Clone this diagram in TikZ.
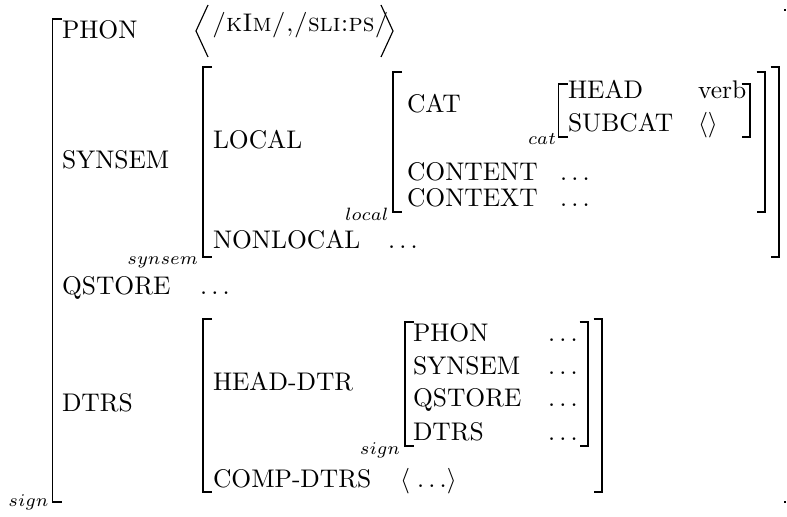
\documentclass[tikz,border=0pt]{standalone}
\usepackage{amsmath}
\begin{document}
\begin{tikzpicture}[x=0.39216pt,y=-0.39216pt,
  ft/.style={anchor=base west,inner sep=0pt,outer sep=0pt,font=\fontsize{10}{12}\selectfont},
  ty/.style={anchor=base east,inner sep=0pt,outer sep=0pt},
  br/.style={line width=0.6pt,line cap=butt,line join=miter},
  ang/.style={line width=0.45pt,line join=miter}]
\useasboundingbox (0,0) rectangle (787,517);
% brackets
\newcommand{\lbr}[3]{\draw[br] (#1+9,#2) -- (#1,#2) -- (#1,#3) -- (#1+9,#3);}
\newcommand{\rbr}[3]{\draw[br] (#1-8.5,#2) -- (#1,#2) -- (#1,#3) -- (#1-8.5,#3);}
% outer sign
\lbr{52.5}{19}{502}
\fill (784,9) rectangle (786,11);
\fill (784,501) rectangle (786,503);
\node[ty] (tsign) at (48.5,506) {$\scriptstyle sign$};
\node[ft] (phon) at (62,38.5) {PHON};
\draw[ang] (208,5) -- (196,31) -- (208,57);
\node[ft] (phonval) at (212,32) {\textsc{/kIm/,/sli:ps/}};
\draw[ang] (381,5) -- (393,31) -- (381,57);
\node[ft] (synsem) at (62,169) {SYNSEM};
\node[ft] (qstore) at (62,295) {QSTORE};
\node[ft] (qval) at (200,295) {$\ldots$};
\node[ft] (dtrs) at (62,411) {DTRS};
% synsem matrix
\lbr{203}{67}{257}
\rbr{779}{67}{257}
\node[ty] (tsynsem) at (198,265) {$\scriptstyle synsem$};
\node[ft] (local) at (213,149) {LOCAL};
\node[ft] (nonlocal) at (213,249) {NONLOCAL};
\node[ft] (nlval) at (388,249) {$\ldots$};
% local matrix
\lbr{393}{72}{212}
\rbr{765}{72}{212}
\node[ty] (tlocal) at (388.5,221) {$\scriptstyle local$};
\node[ft] (cat) at (407,113) {CAT};
\node[ft] (content) at (407,181) {CONTENT};
\node[ft] (contval) at (560,181) {$\ldots$};
\node[ft] (context) at (407,207) {CONTEXT};
\node[ft] (cxval) at (560,207) {$\ldots$};
% cat matrix
\lbr{558.5}{84}{137}
\rbr{750}{84}{137}
\node[ty] (tcat) at (556,145) {$\scriptstyle cat$};
\node[ft] (head) at (568,99) {HEAD};
\node[ft] (verb) at (698,99) {verb};
\node[ft] (subcat) at (568,131.5) {SUBCAT};
\node[ft] (scval) at (698,131.5) {$\langle\rangle$};
% dtrs matrix
\lbr{203}{319}{492}
\rbr{602}{319}{492}
\node[ft] (hdtr) at (213,390) {HEAD-DTR};
\node[ft] (cdtrs) at (213,487) {COMP-DTRS};
\node[ft] (cval) at (400,487) {$\langle\;\ldots\rangle$};
% inner sign matrix
\lbr{405}{322}{446}
\rbr{588}{322}{446}
\node[ty] (tsign2) at (400,454) {$\scriptstyle sign$};
\node[ft] (iphon) at (413,342) {PHON};
\node[ft] (isynsem) at (413,374.5) {SYNSEM};
\node[ft] (iqstore) at (413,406.5) {QSTORE};
\node[ft] (idtrs) at (413,440) {DTRS};
\node[ft] (v1) at (548,342) {$\ldots$};
\node[ft] (v2) at (548,374.5) {$\ldots$};
\node[ft] (v3) at (548,406.5) {$\ldots$};
\node[ft] (v4) at (548,440) {$\ldots$};
\end{tikzpicture}
\end{document}
